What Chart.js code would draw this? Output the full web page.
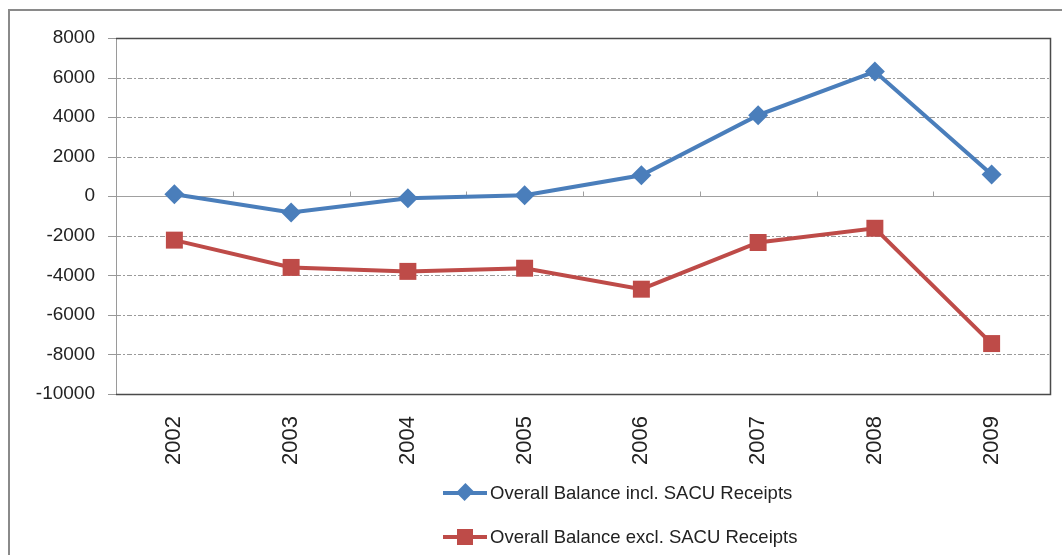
<!DOCTYPE html>
<html>
<head>
<meta charset="utf-8">
<script src="https://cdn.jsdelivr.net/npm/chart.js@4/dist/chart.umd.min.js"></script>
<style>
    body { margin: 0; background: #fff; }
    #wrap { position: relative; width: 1062px; height: 555px; overflow: hidden; background: #fff; }
    #frame { position: absolute; left: 8px; top: 9px; width: 1100px; height: 600px; border-left: 2px solid #8a8a8a; border-top: 2px solid #8a8a8a; }
    #chart { position: absolute; left: 0; top: 0; }
    .legend { position: absolute; left: 443px; font-family: 'Liberation Sans', Arial, sans-serif; font-size: 18.5px; color: #222; display: flex; align-items: center; }
    .legend .sw { position: relative; width: 44px; height: 20px; margin-right: 3px; }
    .legend .ln { position: absolute; left: 0; right: 0; top: 8px; height: 4px; }
    .legend .mk { position: absolute; }
</style>
</head>
<body>
<div id="wrap">
    <div id="frame"></div>
    <canvas id="chart" width="1062" height="555"></canvas>
    <div class="legend" style="top:482px">
        <div class="sw"><div class="ln" style="background:#4a7ebb"></div><div class="mk" style="left:16px;top:3px;width:12px;height:12px;background:#4a7ebb;transform:rotate(45deg) scaleY(1.1)"></div></div>
        <span>Overall Balance incl. SACU Receipts</span>
    </div>
    <div class="legend" style="top:526px">
        <div class="sw"><div class="ln" style="background:#be4b48"></div><div class="mk" style="left:14px;top:2px;width:16px;height:16px;background:#be4b48"></div></div>
        <span>Overall Balance excl. SACU Receipts</span>
    </div>
</div>
<script>
// Overall balance, 2002-2009
const years = ['2002', '2003', '2004', '2005', '2006', '2007', '2008', '2009'];
const inclSacu = [100, -820, -100, 50, 1060, 4100, 6300, 1100];
const exclSacu = [-2220, -3600, -3800, -3640, -4700, -2340, -1620, -7450];
const yTicks = [8000, 6000, 4000, 2000, 0, -2000, -4000, -6000, -8000, -10000];

const blue = '#4a7ebb';
const red = '#be4b48';
const font = "'Liberation Sans', Arial, sans-serif";

// Excel-like gridlines, zero axis with ticks, and plot border
const plotFrame = {
    id: 'plotFrame',
    beforeDatasetsDraw(chart) {
        const ctx = chart.ctx;
        const a = chart.chartArea;
        const y = chart.scales.y;
        ctx.save();
        yTicks.forEach(v => {
            const py = Math.round(y.getPixelForValue(v)) + 0.5;
            // tick mark left of axis
            ctx.strokeStyle = '#999';
            ctx.lineWidth = 1;
            ctx.setLineDash([]);
            ctx.beginPath();
            ctx.moveTo(a.left - 8, py);
            ctx.lineTo(a.left, py);
            ctx.stroke();
            if (v === 8000 || v === -10000) return;
            ctx.beginPath();
            if (v === 0) {
                ctx.strokeStyle = '#a0a0a0';
                ctx.setLineDash([]);
            } else {
                ctx.strokeStyle = '#9a9a9a';
                ctx.setLineDash([5, 2, 2, 2]);
            }
            ctx.moveTo(a.left, py);
            ctx.lineTo(a.right, py);
            ctx.stroke();
        });
        // category ticks on zero line
        const zy = Math.round(y.getPixelForValue(0)) + 0.5;
        ctx.setLineDash([]);
        ctx.strokeStyle = '#a0a0a0';
        const step = (a.right - a.left) / years.length;
        for (let i = 1; i < years.length; i++) {
            const px = Math.round(a.left + step * i) + 0.5;
            ctx.beginPath();
            ctx.moveTo(px, zy);
            ctx.lineTo(px, zy - 5);
            ctx.stroke();
        }
        // left axis
        ctx.strokeStyle = '#9a9a9a';
        ctx.beginPath();
        ctx.moveTo(Math.round(a.left) + 0.5, a.top);
        ctx.lineTo(Math.round(a.left) + 0.5, a.bottom);
        ctx.stroke();
        // dark border top, right, bottom
        ctx.strokeStyle = '#4a4a4a';
        ctx.lineWidth = 1.5;
        ctx.beginPath();
        ctx.moveTo(a.left, Math.round(a.top) + 0.5);
        ctx.lineTo(Math.round(a.right) + 0.5, Math.round(a.top) + 0.5);
        ctx.lineTo(Math.round(a.right) + 0.5, Math.round(a.bottom) + 0.5);
        ctx.lineTo(a.left, Math.round(a.bottom) + 0.5);
        ctx.stroke();
        ctx.restore();
    }
};

new Chart(document.getElementById('chart'), {
    type: 'line',
    data: {
        labels: years,
        datasets: [
            {
                label: 'Overall Balance incl. SACU Receipts',
                data: inclSacu,
                borderColor: blue,
                backgroundColor: blue,
                borderWidth: 4,
                pointStyle: 'rectRot',
                pointRadius: 10,
                pointBorderWidth: 0,
                tension: 0
            },
            {
                label: 'Overall Balance excl. SACU Receipts',
                data: exclSacu,
                borderColor: red,
                backgroundColor: red,
                borderWidth: 4,
                pointStyle: 'rect',
                pointRadius: 12,
                pointBorderWidth: 0,
                tension: 0
            }
        ]
    },
    options: {
        responsive: false,
        animation: false,
        layout: { padding: { top: 38, right: 11, bottom: 0, left: 0 } },
        plugins: {
            legend: { display: false },
            tooltip: { enabled: false }
        },
        scales: {
            x: {
                offset: true,
                grid: { display: false, drawTicks: false },
                border: { display: false },
                afterFit(scale) { scale.height = 161; },
                ticks: {
                    autoSkip: false,
                    minRotation: 90,
                    maxRotation: 90,
                    padding: 22,
                    color: '#222',
                    font: { family: font, size: 22 }
                }
            },
            y: {
                min: -10000,
                max: 8000,
                grid: { display: false, drawTicks: false },
                border: { display: false },
                afterFit(scale) { scale.width = 116; },
                afterBuildTicks(scale) {
                    scale.ticks = yTicks.map(v => ({ value: v }));
                },
                ticks: {
                    padding: 21,
                    color: '#222',
                    font: { family: font, size: 19 },
                    callback: v => String(v)
                }
            }
        }
    },
    plugins: [plotFrame]
});
</script>
</body>
</html>
